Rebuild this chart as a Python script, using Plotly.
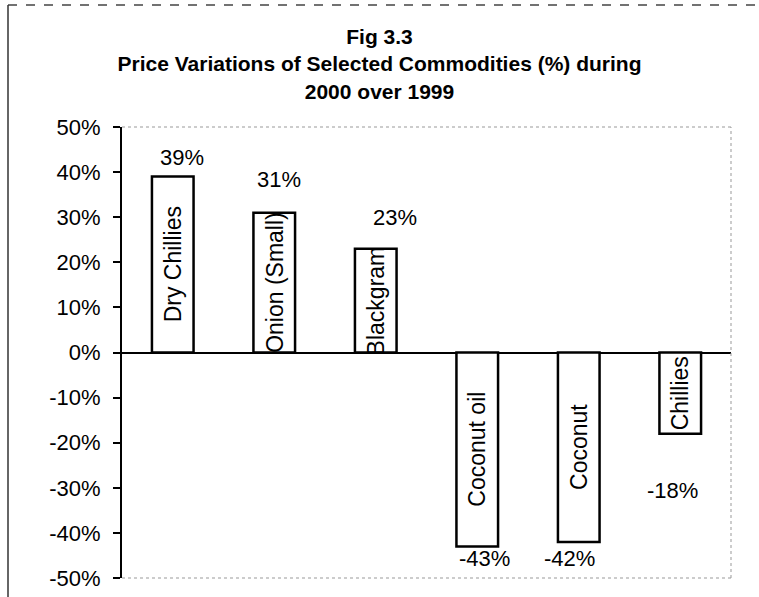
import plotly.graph_objects as go

# ---- data ----
categories = ["Dry Chillies", "Onion (Small)", "Blackgram", "Coconut oil", "Coconut", "Chillies"]
values = [39, 31, 23, -43, -42, -18]
tick_values = [50, 40, 30, 20, 10, 0, -10, -20, -30, -40, -50]
tick_labels = ["50%", "40%", "30%", "20%", "10%", "0%", "-10%", "-20%", "-30%", "-40%", "-50%"]

# ---- label offsets (style only, pixels) ----
value_label_xshift = [9, 5, 19, 7, -9, -8]
value_label_yshift = [19, 33, 31, -12, -17, -57]

W, H = 759, 597
ML, MR, MT, MB = 122, 28, 127, 19
PW, PH = W - ML - MR, H - MT - MB


def px_x(p):
    return (p - ML) / PW


def px_y(p):
    return (H - MB - p) / PH


FONT = "Liberation Sans, Arial, sans-serif"

fig = go.Figure()
fig.add_trace(go.Bar(
    x=categories,
    y=values,
    width=0.41,
    marker=dict(color="white", line=dict(color="black", width=2.5)),
    hoverinfo="x+y",
    showlegend=False,
))

annotations = []
for c, v in zip(categories, values):
    annotations.append(dict(
        x=c, y=v / 2, xref="x", yref="y", text=c, showarrow=False,
        textangle=-90, font=dict(family=FONT, size=23, color="black"),
        xanchor="center", yanchor="middle",
    ))
for c, v, dx, dy in zip(categories, values, value_label_xshift, value_label_yshift):
    annotations.append(dict(
        x=c, y=v, xref="x", yref="y", text=f"{v}%", showarrow=False,
        xshift=dx, yshift=dy, font=dict(family=FONT, size=22, color="black"),
        xanchor="center", yanchor="middle",
    ))

shapes = [
    # outer frame (top and left)
    dict(type="line", xref="paper", yref="paper", x0=px_x(8), x1=px_x(W), y0=px_y(5), y1=px_y(5),
         line=dict(color="#444", width=1.5, dash="dash")),
    dict(type="line", xref="paper", yref="paper", x0=px_x(8), x1=px_x(8), y0=px_y(5), y1=px_y(H),
         line=dict(color="#333", width=1.5)),
    # plot area dotted border
    dict(type="line", xref="paper", yref="paper", x0=0, x1=1, y0=1, y1=1,
         line=dict(color="#999", width=1, dash="dot")),
    dict(type="line", xref="paper", yref="paper", x0=1, x1=1, y0=0, y1=1,
         line=dict(color="#999", width=1, dash="dot")),
    dict(type="line", xref="paper", yref="paper", x0=0, x1=1, y0=0, y1=0,
         line=dict(color="#999", width=1, dash="dot")),
]

fig.update_layout(
    width=W, height=H,
    autosize=False,
    margin=dict(l=ML, r=MR, t=MT, b=MB, autoexpand=False),
    paper_bgcolor="white", plot_bgcolor="white",
    title=dict(
        text="Fig 3.3<br>Price Variations of Selected Commodities (%) during<br>2000 over 1999",
        x=0.5, xanchor="center", xref="container",
        y=1 - 44 / H, yanchor="middle", yref="container",
        font=dict(family=FONT, size=21, color="black", weight="bold"),
    ),
    xaxis=dict(showticklabels=False, showgrid=False, zeroline=False, showline=False, ticks=""),
    yaxis=dict(
        range=[-50, 50], tickmode="array", tickvals=tick_values, ticktext=tick_labels,
        showgrid=False, zeroline=True, zerolinecolor="black", zerolinewidth=2,
        showline=True, linecolor="black", linewidth=2,
        ticks="outside", ticklen=7, tickcolor="black", tickwidth=1.5,
        ticklabelstandoff=8, automargin=False,
        tickfont=dict(family=FONT, size=22, color="black"),
    ),
    annotations=annotations,
    shapes=shapes,
    bargap=0.59,
)

fig.write_html(
    "out.html",
    config={"responsive": False, "displayModeBar": False},
    post_script="document.body.style.margin='0';document.body.style.overflow='hidden';",
)
